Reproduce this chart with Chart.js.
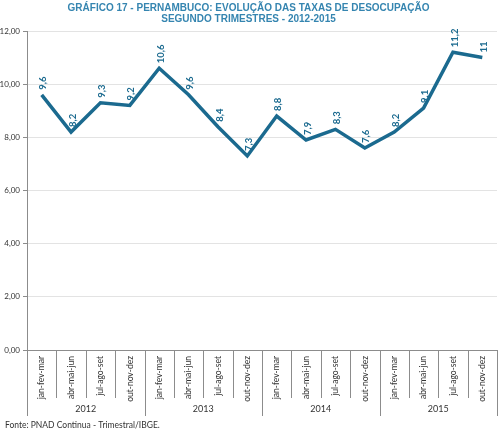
<!DOCTYPE html>
<html>
<head>
<meta charset="utf-8">
<script src="https://cdn.jsdelivr.net/npm/chart.js@4.4.0/dist/chart.umd.min.js"></script>
<style>
html,body{margin:0;padding:0;background:#fff;}
#wrap{width:500px;height:432px;}
</style>
</head>
<body>
<div id="wrap"><canvas id="c" width="500" height="432"></canvas></div>
<script>
const quarters = ["jan-fev-mar","abr-mai-jun","jul-ago-set","out-nov-dez","jan-fev-mar","abr-mai-jun","jul-ago-set","out-nov-dez","jan-fev-mar","abr-mai-jun","jul-ago-set","out-nov-dez","jan-fev-mar","abr-mai-jun","jul-ago-set","out-nov-dez"];
const years = ["2012","2013","2014","2015"];
const rates = [9.6, 8.2, 9.3, 9.2, 10.6, 9.6, 8.4, 7.3, 8.8, 7.9, 8.3, 7.6, 8.2, 9.1, 11.2, 11];
const titleLines = ["GRÁFICO 17 - PERNAMBUCO: EVOLUÇÃO DAS TAXAS DE DESOCUPAÇÃO", "SEGUNDO TRIMESTRES - 2012-2015"];
const sourceText = "Fonte: PNAD Continua - Trimestral/IBGE.";

const LINE = '#1b6a8f';
const fmt = v => String(v).replace('.', ',');

const extras = {
  id: 'extras',
  afterDatasetsDraw(chart) {
    const ctx = chart.ctx;
    const meta = chart.getDatasetMeta(0);
    ctx.save();
    ctx.fillStyle = LINE;
    ctx.font = 'bold 9.5px Lato, "Open Sans", sans-serif';
    ctx.textAlign = 'left';
    ctx.textBaseline = 'middle';
    meta.data.forEach((pt, i) => {
      ctx.save();
      ctx.translate(pt.x + 1.5, pt.y - 5);
      ctx.rotate(-Math.PI / 2);
      ctx.fillText(fmt(rates[i]), 0, 0);
      ctx.restore();
    });
    ctx.restore();
  },
  afterDraw(chart) {
    const ctx = chart.ctx;
    const xs = chart.scales.x;
    const ca = chart.chartArea;
    const n = quarters.length;
    const w = (ca.right - ca.left) / n;
    ctx.save();
    ctx.strokeStyle = '#8c8c8c';
    ctx.lineWidth = 1;
    for (let i = 0; i <= n; i++) {
      const x = Math.round(ca.left + i * w) + 0.5;
      const yEnd = (i % 4 === 0) ? ca.bottom + 66 : ca.bottom + 48;
      ctx.beginPath();
      ctx.moveTo(x, ca.bottom);
      ctx.lineTo(x, yEnd);
      ctx.stroke();
    }
    ctx.fillStyle = '#333';
    ctx.font = '9px Lato, "Open Sans", sans-serif';
    ctx.textAlign = 'center';
    ctx.textBaseline = 'middle';
    years.forEach((y, k) => {
      const x0 = xs.getPixelForValue(k * 4);
      const x1 = xs.getPixelForValue(k * 4 + 3);
      ctx.fillText(y, (x0 + x1) / 2, ca.bottom + 59);
    });
    ctx.textAlign = 'left';
    ctx.font = '8.5px Lato, "Open Sans", sans-serif';
    ctx.fillText(sourceText, 5, 425);
    ctx.restore();
  }
};

new Chart(document.getElementById('c'), {
  type: 'line',
  data: {
    labels: quarters,
    datasets: [{
      data: rates,
      borderColor: LINE,
      borderWidth: 3.5,
      pointRadius: 0,
      tension: 0,
      fill: false
    }]
  },
  options: {
    responsive: false,
    animation: false,
    devicePixelRatio: 1,
    layout: { padding: { top: 0, left: 0, right: 3, bottom: 0 } },
    plugins: {
      legend: { display: false },
      tooltip: { enabled: false },
      title: {
        display: true,
        text: titleLines,
        color: '#3585b0',
        font: { family: '"Liberation Sans", Arial, sans-serif', size: 10, weight: 'bold', lineHeight: 1.1 },
        padding: { top: 3, bottom: 6 }
      }
    },
    scales: {
      x: {
        offset: true,
        afterFit: s => { s.height = 82; },
        grid: { display: false, drawTicks: false },
        border: { display: true, color: '#8c8c8c', width: 1 },
        ticks: {
          autoSkip: false,
          minRotation: 90,
          maxRotation: 90,
          padding: 6,
          color: '#333',
          font: { family: 'Lato, "Open Sans", sans-serif', size: 8.5 }
        }
      },
      y: {
        min: 0,
        max: 12,
        afterFit: s => { s.width = 27; },
        ticks: {
          stepSize: 2,
          padding: 3,
          color: '#333',
          font: { family: 'Lato, "Open Sans", sans-serif', size: 8 },
          callback: v => v.toFixed(2).replace('.', ',')
        },
        grid: { color: '#e3e3e3', tickLength: 4, tickColor: '#8c8c8c' },
        border: { display: true, color: '#8c8c8c', width: 1 }
      }
    }
  },
  plugins: [extras]
});
</script>
</body>
</html>
